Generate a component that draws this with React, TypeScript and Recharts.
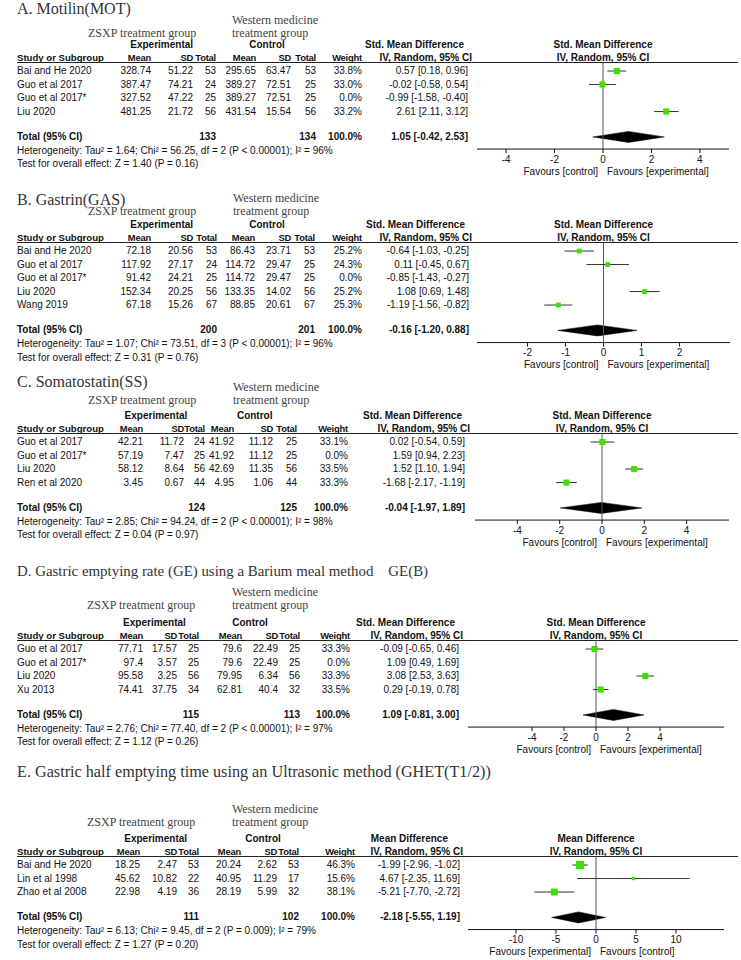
import React from 'react';
import { ComposedChart, Scatter, ErrorBar, Area, XAxis, YAxis, ReferenceLine } from 'recharts';

// A. Motilin
const A_STUDIES = ['Bai and He 2020', 'Guo et al 2017', 'Guo et al 2017*', 'Liu 2020'];
const A_EXP_MEAN = [328.74, 387.47, 327.52, 481.25];
const A_EXP_SD = [51.22, 74.21, 47.22, 21.72];
const A_EXP_N = [53, 24, 25, 56];
const A_CTL_MEAN = [295.65, 389.27, 389.27, 431.54];
const A_CTL_SD = [63.47, 72.51, 72.51, 15.54];
const A_CTL_N = [53, 25, 25, 56];
const A_WEIGHT = [33.8, 33.0, 0.0, 33.2];
const A_EST = [0.57, -0.02, -0.99, 2.61];
const A_LO = [0.18, -0.58, -1.58, 2.11];
const A_HI = [0.96, 0.54, -0.4, 3.12];
const A_TOTAL = [1.05, -0.42, 2.53];
const A_TOTAL_N = [133, 134];
const A_TICKS = [-4, -2, 0, 2, 4];

// B. Gastrin
const B_STUDIES = ['Bai and He 2020', 'Guo et al 2017', 'Guo et al 2017*', 'Liu 2020', 'Wang 2019'];
const B_EXP_MEAN = [72.18, 117.92, 91.42, 152.34, 67.18];
const B_EXP_SD = [20.56, 27.17, 24.21, 20.25, 15.26];
const B_EXP_N = [53, 24, 25, 56, 67];
const B_CTL_MEAN = [86.43, 114.72, 114.72, 133.35, 88.85];
const B_CTL_SD = [23.71, 29.47, 29.47, 14.02, 20.61];
const B_CTL_N = [53, 25, 25, 56, 67];
const B_WEIGHT = [25.2, 24.3, 0.0, 25.2, 25.3];
const B_EST = [-0.64, 0.11, -0.85, 1.08, -1.19];
const B_LO = [-1.03, -0.45, -1.43, 0.69, -1.56];
const B_HI = [-0.25, 0.67, -0.27, 1.48, -0.82];
const B_TOTAL = [-0.16, -1.2, 0.88];
const B_TOTAL_N = [200, 201];
const B_TICKS = [-2, -1, 0, 1, 2];

// C. Somatostatin
const C_STUDIES = ['Guo et al 2017', 'Guo et al 2017*', 'Liu 2020', 'Ren et al 2020'];
const C_EXP_MEAN = [42.21, 57.19, 58.12, 3.45];
const C_EXP_SD = [11.72, 7.47, 8.64, 0.67];
const C_EXP_N = [24, 25, 56, 44];
const C_CTL_MEAN = [41.92, 41.92, 42.69, 4.95];
const C_CTL_SD = [11.12, 11.12, 11.35, 1.06];
const C_CTL_N = [25, 25, 56, 44];
const C_WEIGHT = [33.1, 0.0, 33.5, 33.3];
const C_EST = [0.02, 1.59, 1.52, -1.68];
const C_LO = [-0.54, 0.94, 1.1, -2.17];
const C_HI = [0.59, 2.23, 1.94, -1.19];
const C_TOTAL = [-0.04, -1.97, 1.89];
const C_TOTAL_N = [124, 125];
const C_TICKS = [-4, -2, 0, 2, 4];

// D. Gastric emptying rate
const D_STUDIES = ['Guo et al 2017', 'Guo et al 2017*', 'Liu 2020', 'Xu 2013'];
const D_EXP_MEAN = [77.71, 97.4, 95.58, 74.41];
const D_EXP_SD = [17.57, 3.57, 3.25, 37.75];
const D_EXP_N = [25, 25, 56, 34];
const D_CTL_MEAN = [79.6, 79.6, 79.95, 62.81];
const D_CTL_SD = [22.49, 22.49, 6.34, 40.4];
const D_CTL_N = [25, 25, 56, 32];
const D_WEIGHT = [33.3, 0.0, 33.3, 33.5];
const D_EST = [-0.09, 1.09, 3.08, 0.29];
const D_LO = [-0.65, 0.49, 2.53, -0.19];
const D_HI = [0.46, 1.69, 3.63, 0.78];
const D_TOTAL = [1.09, -0.81, 3.0];
const D_TOTAL_N = [115, 113];
const D_TICKS = [-4, -2, 0, 2, 4];

// E. Gastric half emptying time
const E_STUDIES = ['Bai and He 2020', 'Lin et al 1998', 'Zhao et al 2008'];
const E_EXP_MEAN = [18.25, 45.62, 22.98];
const E_EXP_SD = [2.47, 10.82, 4.19];
const E_EXP_N = [53, 22, 36];
const E_CTL_MEAN = [20.24, 40.95, 28.19];
const E_CTL_SD = [2.62, 11.29, 5.99];
const E_CTL_N = [53, 17, 32];
const E_WEIGHT = [46.3, 15.6, 38.1];
const E_EST = [-1.99, 4.67, -5.21];
const E_LO = [-2.96, -2.35, -7.7];
const E_HI = [-1.02, 11.69, -2.72];
const E_TOTAL = [-2.18, -5.55, 1.19];
const E_TOTAL_N = [111, 102];
const E_TICKS = [-10, -5, 0, 5, 10];

const SANS = '"Liberation Sans", Arial, sans-serif';
const SERIF = '"Liberation Serif", "Times New Roman", serif';
const GREEN = '#3ee000';
const PITCH = 13.5;

type Panel = {
  title: string; measure: string; favours: [string, string];
  studies: string[]; expMean: number[]; expSD: number[]; expN: number[];
  ctlMean: number[]; ctlSD: number[]; ctlN: number[]; weight: number[];
  est: number[]; lo: number[]; hi: number[]; total: number[]; totalN: number[]; ticks: number[];
  het: string; test: string;
  // layout
  y0: number; titleY: number; titleSize: number; wmY: number; cols: number[]; estX: number; h1: number; h2: number;
  expC: number; ctlC: number; zsxpX: number; wmX: number; axL: number; axR: number; domain: [number, number];
};

const PANELS: Panel[] = [
  {
    title: 'A. Motilin(MOT)', measure: 'Std. Mean Difference', favours: ['Favours [control]', 'Favours [experimental]'],
    studies: A_STUDIES, expMean: A_EXP_MEAN, expSD: A_EXP_SD, expN: A_EXP_N, ctlMean: A_CTL_MEAN, ctlSD: A_CTL_SD, ctlN: A_CTL_N,
    weight: A_WEIGHT, est: A_EST, lo: A_LO, hi: A_HI, total: A_TOTAL, totalN: A_TOTAL_N, ticks: A_TICKS,
    het: 'Heterogeneity: Tau² = 1.64; Chi² = 56.25, df = 2 (P < 0.00001); I² = 96%',
    test: 'Test for overall effect: Z = 1.40 (P = 0.16)',
    y0: 62, titleY: 8.5, titleSize: 16, wmY: 20, cols: [151, 193, 216, 256, 291, 316, 362], estX: 468, h1: 464, h2: 472,
    expC: 161.7, ctlC: 267, zsxpX: 88, wmX: 232, axL: 477, axR: 729, domain: [-5.2, 5.2],
  },
  {
    title: 'B. Gastrin(GAS)', measure: 'Std. Mean Difference', favours: ['Favours [control]', 'Favours [experimental]'],
    studies: B_STUDIES, expMean: B_EXP_MEAN, expSD: B_EXP_SD, expN: B_EXP_N, ctlMean: B_CTL_MEAN, ctlSD: B_CTL_SD, ctlN: B_CTL_N,
    weight: B_WEIGHT, est: B_EST, lo: B_LO, hi: B_HI, total: B_TOTAL, totalN: B_TOTAL_N, ticks: B_TICKS,
    het: 'Heterogeneity: Tau² = 1.07; Chi² = 73.51, df = 3 (P < 0.00001); I² = 96%',
    test: 'Test for overall effect: Z = 0.31 (P = 0.76)',
    y0: 242, titleY: 200, titleSize: 16, wmY: 198, cols: [151, 193, 217, 255, 291, 315, 362], estX: 469, h1: 465, h2: 472,
    expC: 161.7, ctlC: 267, zsxpX: 88, wmX: 233, axL: 477, axR: 730, domain: [-3.33, 3.33],
  },
  {
    title: 'C. Somatostatin(SS)', measure: 'Std. Mean Difference', favours: ['Favours [control]', 'Favours [experimental]'],
    studies: C_STUDIES, expMean: C_EXP_MEAN, expSD: C_EXP_SD, expN: C_EXP_N, ctlMean: C_CTL_MEAN, ctlSD: C_CTL_SD, ctlN: C_CTL_N,
    weight: C_WEIGHT, est: C_EST, lo: C_LO, hi: C_HI, total: C_TOTAL, totalN: C_TOTAL_N, ticks: C_TICKS,
    het: 'Heterogeneity: Tau² = 2.85; Chi² = 94.24, df = 2 (P < 0.00001); I² = 98%',
    test: 'Test for overall effect: Z = 0.04 (P = 0.97)',
    y0: 433, titleY: 381.7, titleSize: 16, wmY: 387, cols: [143, 184, 205, 234, 273, 297, 348], estX: 465, h1: 462, h2: 470,
    expC: 156, ctlC: 254.7, zsxpX: 88, wmX: 233, axL: 475, axR: 729, domain: [-6, 6],
  },
  {
    title: 'D. Gastric emptying rate (GE) using a Barium meal method    GE(B)', measure: 'Std. Mean Difference',
    favours: ['Favours [control]', 'Favours [experimental]'],
    studies: D_STUDIES, expMean: D_EXP_MEAN, expSD: D_EXP_SD, expN: D_EXP_N, ctlMean: D_CTL_MEAN, ctlSD: D_CTL_SD, ctlN: D_CTL_N,
    weight: D_WEIGHT, est: D_EST, lo: D_LO, hi: D_HI, total: D_TOTAL, totalN: D_TOTAL_N, ticks: D_TICKS,
    het: 'Heterogeneity: Tau² = 2.76; Chi² = 77.40, df = 2 (P < 0.00001); I² = 97%',
    test: 'Test for overall effect: Z = 1.12 (P = 0.26)',
    y0: 640, titleY: 571.7, titleSize: 14.9, wmY: 591.7, cols: [143, 177, 199, 242, 278, 300, 350], estX: 459, h1: 455, h2: 463,
    expC: 154.5, ctlC: 250, zsxpX: 87, wmX: 232, axL: 468, axR: 724, domain: [-8, 8],
  },
  {
    title: 'E. Gastric half emptying time using an Ultrasonic method (GHET(T1/2))', measure: 'Mean Difference',
    favours: ['Favours [experimental]', 'Favours [control]'],
    studies: E_STUDIES, expMean: E_EXP_MEAN, expSD: E_EXP_SD, expN: E_EXP_N, ctlMean: E_CTL_MEAN, ctlSD: E_CTL_SD, ctlN: E_CTL_N,
    weight: E_WEIGHT, est: E_EST, lo: E_LO, hi: E_HI, total: E_TOTAL, totalN: E_TOTAL_N, ticks: E_TICKS,
    het: 'Heterogeneity: Tau² = 6.13; Chi² = 9.45, df = 2 (P = 0.009); I² = 79%',
    test: 'Test for overall effect: Z = 1.27 (P = 0.20)',
    y0: 856, titleY: 771.7, titleSize: 16.2, wmY: 809, cols: [140, 177, 199, 241, 277, 299, 355], estX: 460, h1: 448, h2: 463,
    expC: 155.7, ctlC: 263, zsxpX: 87, wmX: 232, axL: 468, axR: 724, domain: [-16, 16],
  },
];

type TxtProps = {
  x: number; y: number; children: React.ReactNode; align?: 'left' | 'right' | 'center';
  bold?: boolean; size?: number; font?: string; color?: string; ls?: number;
};

const Txt = ({ x, y, children, align = 'left', bold, size = 10, font = SANS, color = '#111', ls = 0 }: TxtProps) => {
  const tx = align === 'left' ? '0' : align === 'right' ? '-100%' : '-50%';
  return (
    <div
      style={{
        position: 'absolute', left: x, top: y - size / 2, lineHeight: `${size}px`, fontSize: size,
        fontFamily: font, fontWeight: bold ? 'bold' : 'normal', color, whiteSpace: 'pre',
        letterSpacing: ls, transform: `translateX(${tx})`,
      }}
    >
      {children}
    </div>
  );
};

// column header cell: slightly smaller bold text, right aligned
const Hd = ({ x, y, children }: { x: number; y: number; children: React.ReactNode }) => (
  <Txt x={x} y={y} align="right" bold size={9.4} ls={-0.2}>{children}</Txt>
);

const Square = (props: any) => {
  const { cx, cy, payload } = props;
  const s = payload.size;
  return <rect x={cx - s / 2} y={cy - s / 2} width={s} height={s} fill={GREEN} />;
};

const fmtCI = (e: number, l: number, h: number) => `${e.toFixed(2)} [${l.toFixed(2)}, ${h.toFixed(2)}]`;

const ForestPanel = ({ p }: { p: Panel }) => {
  const n = p.studies.length;
  const rowY = (i: number) => p.y0 + (i + 0.67) * PITCH;
  const totalUnits = n + 1.55;
  const axisUnits = n + 2.45;
  const totalY = p.y0 + totalUnits * PITCH;
  const plotH = axisUnits * PITCH;
  const axisY = p.y0 + plotH;
  const w = p.axR - p.axL;
  const zeroX = p.axL + ((0 - p.domain[0]) / (p.domain[1] - p.domain[0])) * w;
  const [c1, c2, c3, c4, c5, c6, c7] = p.cols;

  const points = p.studies
    .map((_, i) => ({
      x: p.est[i], y: i + 0.67, err: [p.est[i] - p.lo[i], p.hi[i] - p.est[i]], size: 0.16 * p.weight[i] + 0.8, w: p.weight[i],
    }))
    .filter((d) => d.w > 0);

  const dh = 0.41;
  const diamond = [
    { x: p.total[1], band: [totalUnits, totalUnits] },
    { x: p.total[0], band: [totalUnits - dh, totalUnits + dh] },
    { x: p.total[2], band: [totalUnits, totalUnits] },
  ];

  const hY1 = p.y0 - 17.5;
  const hY2 = p.y0 - 4.5;
  const tgY = p.wmY + 13.2;

  return (
    <>
      <Txt x={17} y={p.titleY} size={p.titleSize} font={SERIF} color="#333">{p.title}</Txt>
      <Txt x={p.wmX} y={p.wmY} size={12} font={SERIF} color="#444">Western medicine</Txt>
      <Txt x={p.wmX} y={tgY} size={12} font={SERIF} color="#444">treatment group</Txt>
      <Txt x={p.zsxpX} y={tgY} size={12} font={SERIF} color="#444">ZSXP treatment group</Txt>

      <Txt x={p.expC} y={hY1} align="center" bold>Experimental</Txt>
      <Txt x={p.ctlC} y={hY1} align="center" bold>Control</Txt>
      <Txt x={p.h1} y={hY1} align="right" bold>{p.measure}</Txt>
      <Txt x={zeroX} y={hY1} align="center" bold>{p.measure}</Txt>

      <Txt x={17} y={hY2} bold size={9.6}>Study or Subgroup</Txt>
      <Hd x={c1} y={hY2}>Mean</Hd>
      <Hd x={c2} y={hY2}>SD</Hd>
      <Hd x={c3} y={hY2}>Total</Hd>
      <Hd x={c4} y={hY2}>Mean</Hd>
      <Hd x={c5} y={hY2}>SD</Hd>
      <Hd x={c6} y={hY2}>Total</Hd>
      <Hd x={c7} y={hY2}>Weight</Hd>
      <Txt x={p.h2} y={hY2} align="right" bold>IV, Random, 95% CI</Txt>
      <Txt x={zeroX} y={hY2} align="center" bold>IV, Random, 95% CI</Txt>

      <div style={{ position: 'absolute', left: 17, top: p.y0, width: 721, height: 1, background: '#222' }} />

      {p.studies.map((s, i) => (
        <React.Fragment key={s}>
          <Txt x={17} y={rowY(i)}>{s}</Txt>
          <Txt x={c1} y={rowY(i)} align="right">{String(p.expMean[i])}</Txt>
          <Txt x={c2} y={rowY(i)} align="right">{String(p.expSD[i])}</Txt>
          <Txt x={c3} y={rowY(i)} align="right">{String(p.expN[i])}</Txt>
          <Txt x={c4} y={rowY(i)} align="right">{String(p.ctlMean[i])}</Txt>
          <Txt x={c5} y={rowY(i)} align="right">{String(p.ctlSD[i])}</Txt>
          <Txt x={c6} y={rowY(i)} align="right">{String(p.ctlN[i])}</Txt>
          <Txt x={c7} y={rowY(i)} align="right">{p.weight[i].toFixed(1) + '%'}</Txt>
          <Txt x={p.estX} y={rowY(i)} align="right">{fmtCI(p.est[i], p.lo[i], p.hi[i])}</Txt>
        </React.Fragment>
      ))}

      <Txt x={17} y={totalY} bold>Total (95% CI)</Txt>
      <Txt x={c3} y={totalY} align="right" bold>{String(p.totalN[0])}</Txt>
      <Txt x={c6} y={totalY} align="right" bold>{String(p.totalN[1])}</Txt>
      <Txt x={c7} y={totalY} align="right" bold>100.0%</Txt>
      <Txt x={p.estX} y={totalY} align="right" bold>{fmtCI(p.total[0], p.total[1], p.total[2])}</Txt>
      <Txt x={17} y={totalY + 14}>{p.het}</Txt>
      <Txt x={17} y={totalY + 27.5}>{p.test}</Txt>

      <Txt x={zeroX - 5} y={axisY + 22.5} align="right">{p.favours[0]}</Txt>
      <Txt x={zeroX + 4} y={axisY + 22.5}>{p.favours[1]}</Txt>

      <div style={{ position: 'absolute', left: p.axL, top: p.y0 }}>
        <ComposedChart width={w} height={plotH + 30} margin={{ top: 0, right: 0, bottom: 0, left: 0 }}>
          <XAxis
            type="number" dataKey="x" domain={p.domain} ticks={p.ticks} interval={0} allowDataOverflow
            height={30} tickSize={4} tickMargin={2.5} stroke="#111"
            tick={{ fontSize: 10, fill: '#111', fontFamily: SANS }}
          />
          <YAxis type="number" dataKey="y" domain={[0, axisUnits]} reversed hide allowDataOverflow />
          <ReferenceLine x={0} stroke="#555" strokeWidth={1} ifOverflow="extendDomain" />
          <Area
            data={diamond} dataKey="band" type="linear" fill="#000" fillOpacity={1} stroke="#000"
            strokeWidth={0.5} dot={false} activeDot={false} isAnimationActive={false}
          />
          <Scatter data={points} shape={Square} isAnimationActive={false}>
            <ErrorBar dataKey="err" direction="x" width={0} stroke="#333" strokeWidth={1} isAnimationActive={false} />
          </Scatter>
        </ComposedChart>
      </div>
    </>
  );
};

export default function App() {
  return (
    <div style={{ position: 'absolute', left: 0, top: 0, width: 741, height: 960, background: '#fff', overflow: 'hidden' }}>
      {PANELS.map((p) => (
        <ForestPanel key={p.title} p={p} />
      ))}
    </div>
  );
}
